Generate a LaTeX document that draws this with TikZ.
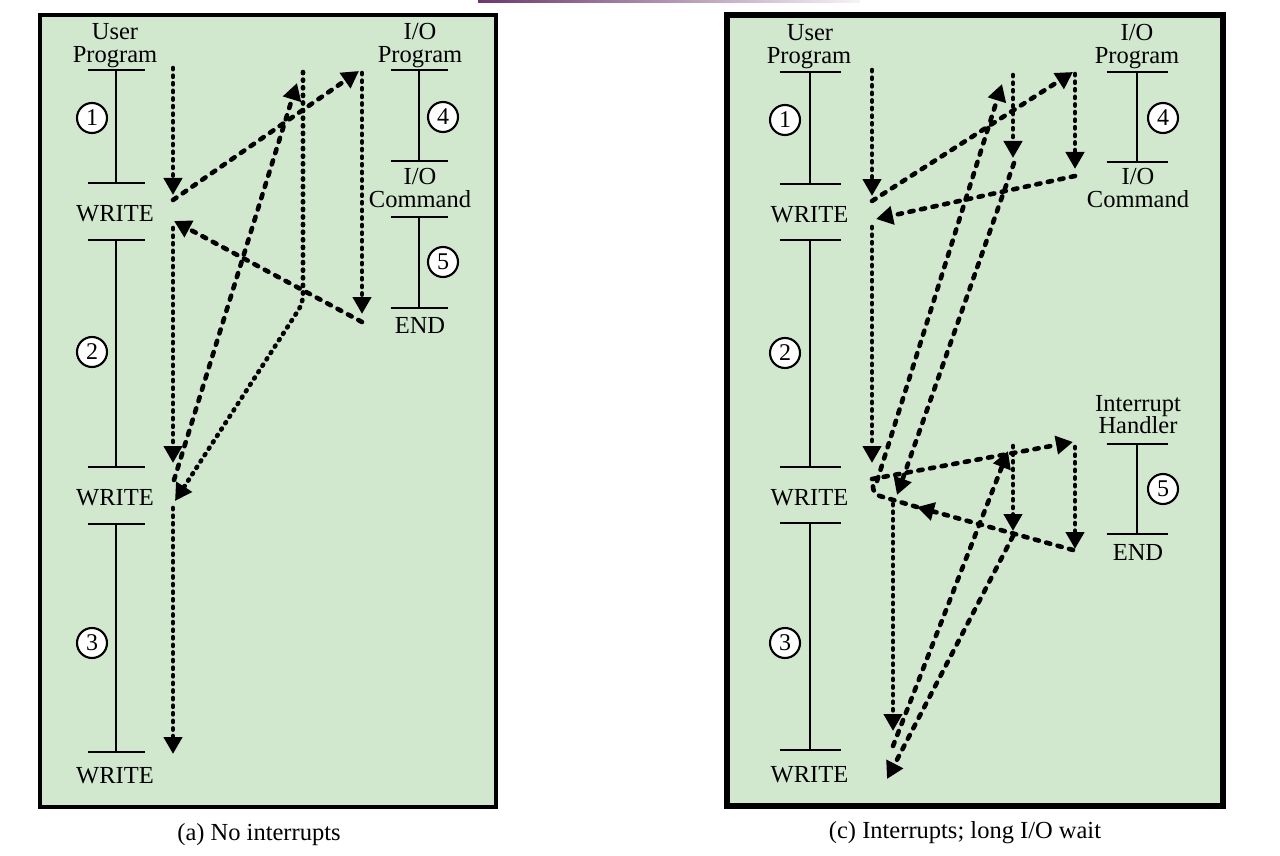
\documentclass[tikz,border=0pt]{standalone}
\usepackage{fontspec}
\setmainfont{Liberation Serif}
\usetikzlibrary{arrows.meta}
\definecolor{bg}{RGB}{209,232,207}
\definecolor{purp}{RGB}{110,55,110}
\newcommand\tlseg[4]{\draw[bar] (#1-#4,#2) -- (#1+#4,#2) (#1,#2) -- (#1,#3) (#1-#4,#3) -- (#1+#4,#3);}
\begin{document}
\begin{tikzpicture}[x=1pt,y=-1pt,
  dotline/.style={line width=4.6pt, line cap=round, dash pattern=on 1.2pt off 6.4pt},
  dashline/.style={line width=4.6pt, line cap=round, dash pattern=on 4.2pt off 7.6pt},
  tip/.style={-{Triangle[width=18pt,length=17pt]}},
  bar/.style={line width=2pt},
  lbl/.style={font=\fontsize{24.5}{22}\selectfont, anchor=base, inner sep=0pt},
  num/.style={circle, draw, line width=2.1pt, minimum size=30pt, inner sep=0pt, fill=white, font=\fontsize{24}{24}\selectfont}]
\useasboundingbox (0,0) rectangle (1280,856);
\fill[white] (0,0) rectangle (1280,856);
\shade[left color=purp, right color=purp!6!white] (478,0) rectangle (860,3);
% frames
\draw[line width=4.5pt, fill=bg] (40,15) rectangle (496,807);
\draw[line width=5.5pt, fill=bg] (727,15) rectangle (1223,806);

% ---------- panel (a) timelines ----------
\tlseg{116}{70}{183}{28.5}
\tlseg{116}{240}{467}{28.5}
\tlseg{116}{524}{752}{28.5}
\tlseg{419}{70}{161}{28.5}
\tlseg{419}{217}{308}{28.5}

\node[lbl] (aU1) at (115,39.5) {User};
\node[lbl] (aU2) at (115,62.5) {Program};
\node[lbl] (aW1) at (115,221) {WRITE};
\node[lbl] (aW2) at (115,505) {WRITE};
\node[lbl] (aW3) at (115,783) {WRITE};
\node[lbl] (aP1) at (420,39.5) {I/O};
\node[lbl] (aP2) at (420,62.5) {Program};
\node[lbl] (aC1) at (420,185) {I/O};
\node[lbl] (aC2) at (420,207) {Command};
\node[lbl] (aE) at (420,333) {END};
\node[lbl] (acap) at (259,840) {(a) No interrupts};

\node[num] (an1) at (92,118) {1};
\node[num] (an2) at (92,352) {2};
\node[num] (an3) at (92,643) {3};
\node[num] (an4) at (443,117) {4};
\node[num] (an5) at (443,262) {5};

% ---------- panel (a) flow ----------
\coordinate (a1s) at (173,68);  \coordinate (a1e) at (173,195);
\coordinate (a2s) at (173,200); \coordinate (a2e) at (359,71);
\coordinate (a3s) at (362,73);  \coordinate (a3e) at (362,314);
\coordinate (a4s) at (362,322); \coordinate (a4e) at (174,221);
\coordinate (a5s) at (173,228); \coordinate (a5e) at (173,463);
\coordinate (a6s) at (174,480); \coordinate (a6e) at (297,83);
\coordinate (a7s) at (303,72);  \coordinate (a7m) at (303,303); \coordinate (a7e) at (175,501);
\coordinate (a8s) at (173,508); \coordinate (a8e) at (173,754);

\draw[dotline, tip] (a1s) -- (a1e);
\draw[dashline, tip] (a2s) -- (a2e);
\draw[dotline, tip] (a3s) -- (a3e);
\draw[dashline, tip] (a4s) -- (a4e);
\draw[dotline, tip] (a5s) -- (a5e);
\draw[dashline, tip] (a6s) -- (a6e);
\draw[dotline, tip, rounded corners=8pt] (a7s) -- (a7m) -- (a7e);
\draw[dotline, tip] (a8s) -- (a8e);

% ---------- panel (c) timelines ----------
\tlseg{810}{72}{184}{30.5}
\tlseg{810}{240}{467}{30.5}
\tlseg{810}{523}{750}{30.5}
\tlseg{1137}{72}{162}{30.5}
\tlseg{1137}{444}{534}{30.5}

\node[lbl] (cU1) at (810,41) {User};
\node[lbl] (cU2) at (809,63.5) {Program};
\node[lbl] (cW1) at (809.5,222) {WRITE};
\node[lbl] (cW2) at (809.5,505) {WRITE};
\node[lbl] (cW3) at (809.5,782) {WRITE};
\node[lbl] (cP1) at (1137,41) {I/O};
\node[lbl] (cP2) at (1137,63.5) {Program};
\node[lbl] (cC1) at (1138,185) {I/O};
\node[lbl] (cC2) at (1138,207) {Command};
\node[lbl] (cH1) at (1138,411) {Interrupt};
\node[lbl] (cH2) at (1138,433) {Handler};
\node[lbl] (cE) at (1138,560) {END};
\node[lbl] (ccap) at (965,838) {(c) Interrupts; long I/O wait};

\node[num] (cn1) at (785,120) {1};
\node[num] (cn2) at (785,353) {2};
\node[num] (cn3) at (785,643) {3};
\node[num] (cn4) at (1163,118) {4};
\node[num] (cn5) at (1163,489) {5};

% ---------- panel (c) flow ----------
\coordinate (cAs) at (872,70);   \coordinate (cAe) at (872,196);
\coordinate (cBs) at (872,201);  \coordinate (cBe) at (1073,72);
\coordinate (cCs) at (1075,74);  \coordinate (cCe) at (1075,169);
\coordinate (cDs) at (1075,176); \coordinate (cDe) at (876,219);
\coordinate (cEs) at (872,227);  \coordinate (cEe) at (872,463);
\coordinate (cFs) at (872,479);  \coordinate (cFe) at (1073,442);
\coordinate (cGs) at (1075,447); \coordinate (cGe) at (1075,549);
\coordinate (cHs) at (1073,550); \coordinate (cHe) at (917,507);
\coordinate (cHb) at (873,494);  \coordinate (cHt) at (873,480);
\coordinate (cIs) at (1013,75);  \coordinate (cIe) at (1013,158);
\coordinate (cJs) at (877,481);  \coordinate (cJe) at (1002,84);
\coordinate (cKs) at (1014,163); \coordinate (cKe) at (897,495);
\coordinate (cLs) at (893,504);  \coordinate (cLe) at (893,731);
\coordinate (cMs) at (893,746);  \coordinate (cMe) at (1008,451);
\coordinate (cNs) at (1013,446); \coordinate (cNe) at (1013,531);
\coordinate (cOs) at (1013,536); \coordinate (cOe) at (887,779);

\draw[dotline, tip] (cAs) -- (cAe);
\draw[dashline, tip] (cBs) -- (cBe);
\draw[dotline, tip] (cCs) -- (cCe);
\draw[dashline, tip] (cDs) -- (cDe);
\draw[dotline, tip] (cEs) -- (cEe);
\draw[dashline, tip] (cFs) -- (cFe);
\draw[dotline, tip] (cGs) -- (cGe);
\draw[dashline, tip] (cHs) -- (cHe);
\draw[dashline, rounded corners=7pt] (cHe) -- (cHb) -- (cHt);
\draw[dotline, tip] (cIs) -- (cIe);
\draw[dashline, tip] (cJs) -- (cJe);
\draw[dashline, tip] (cKs) -- (cKe);
\draw[dotline, tip] (cLs) -- (cLe);
\draw[dashline, tip] (cMs) -- (cMe);
\draw[dotline, tip] (cNs) -- (cNe);
\draw[dashline, tip] (cOs) -- (cOe);
\end{tikzpicture}
\end{document}
